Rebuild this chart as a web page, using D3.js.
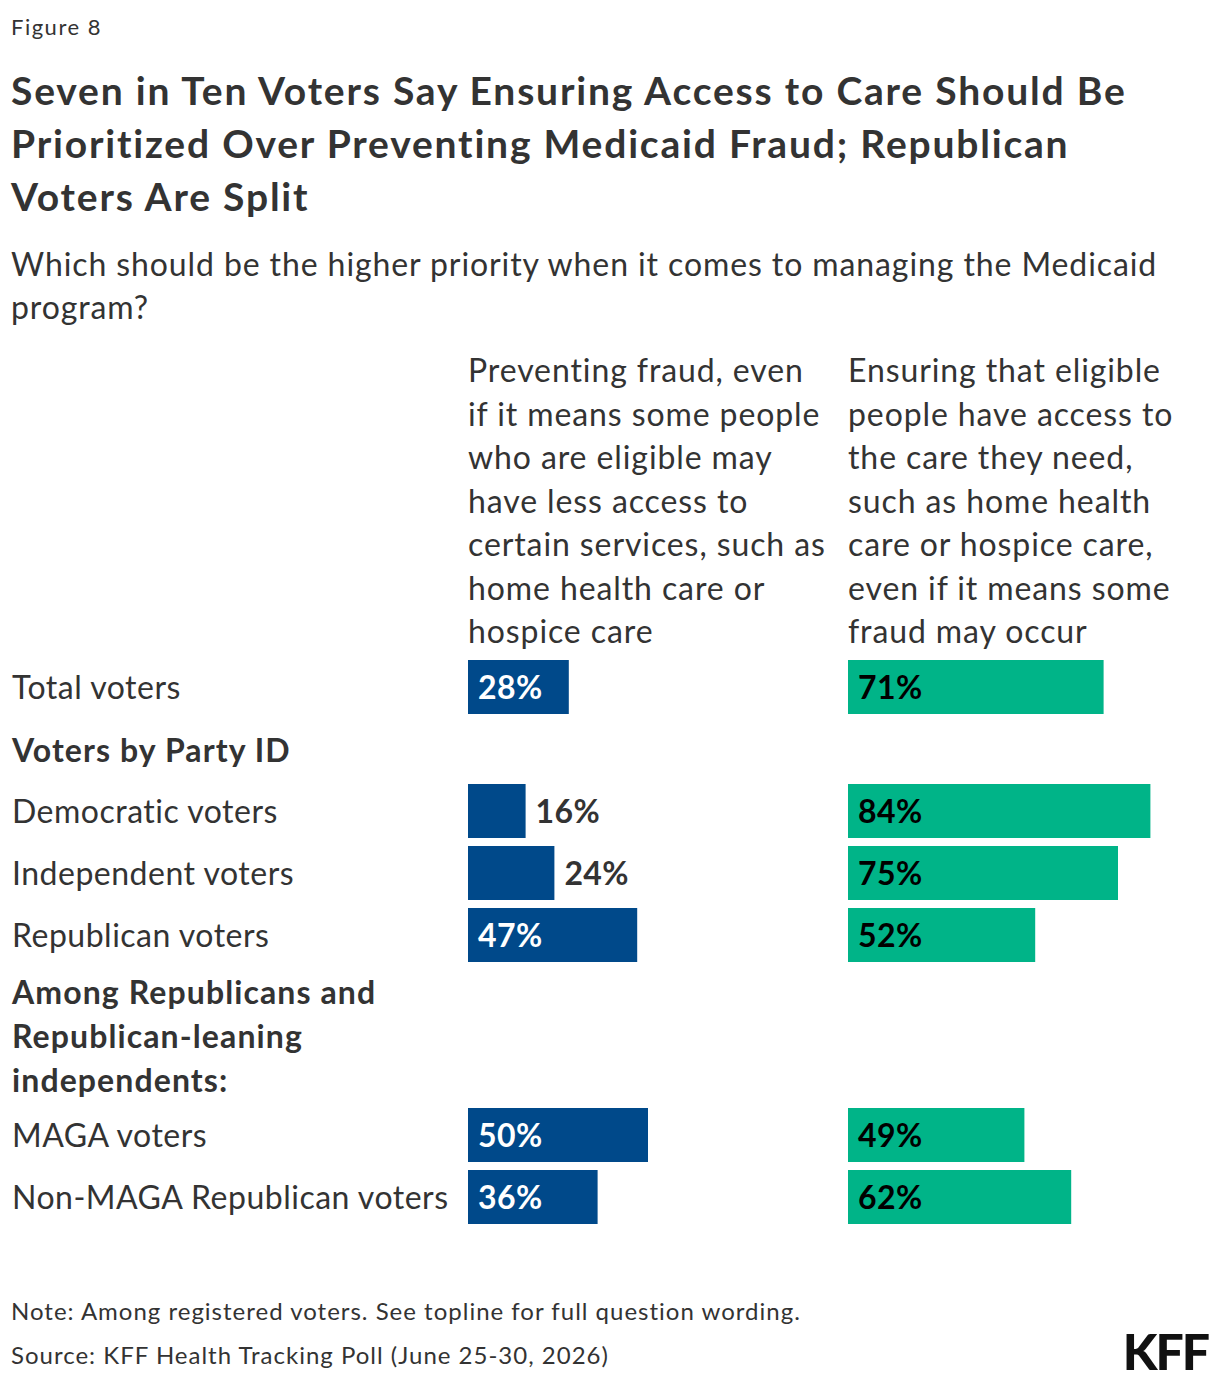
<!DOCTYPE html>
<html>
<head>
<meta charset="utf-8">
<script src="https://cdn.jsdelivr.net/npm/d3@7"></script>
<style>
  body { margin: 0; background: #fff; }
  svg text { font-family: "Source Sans Pro", Lato, "Noto Sans", sans-serif; }
</style>
</head>
<body>
<div id="chart"></div>
<script>
const width = 1220;
const height = 1384;

// Data
const categories = ['Total voters', 'Democratic voters', 'Independent voters', 'Republican voters', 'MAGA voters', 'Non-MAGA Republican voters'];
const fraud_values = [28, 16, 24, 47, 50, 36];
const access_values = [71, 84, 75, 52, 49, 62];
const series_labels = [
  ['Preventing fraud, even', 'if it means some people', 'who are eligible may', 'have less access to', 'certain services, such as', 'home health care or', 'hospice care'],
  ['Ensuring that eligible', 'people have access to', 'the care they need,', 'such as home health', 'care or hospice care,', 'even if it means some', 'fraud may occur']
];
const group_headers = [
  {before: 'Democratic voters', lines: ['Voters by Party ID']},
  {before: 'MAGA voters', lines: ['Among Republicans and', 'Republican-leaning', 'independents:']}
];

const blue = '#00498a';
const green = '#00b488';
const textColor = '#333333';

const svg = d3.select('#chart')
  .append('svg')
    .attr('width', width)
    .attr('height', height);

// Header texts
svg.append('text')
  .attr('x', 11).attr('y', 35)
  .attr('font-size', 22).attr('letter-spacing', 1.5).attr('fill', textColor)
  .text('Figure 8');

const title = ['Seven in Ten Voters Say Ensuring Access to Care Should Be', 'Prioritized Over Preventing Medicaid Fraud; Republican', 'Voters Are Split'];
svg.append('g').selectAll('text')
  .data(title)
  .join('text')
    .attr('x', 11)
    .attr('y', (d, i) => 105 + i * 53)
    .attr('font-size', 39).attr('font-weight', 700)
    .attr('letter-spacing', 1.8).attr('fill', textColor)
    .text(d => d);

const subtitle = ['Which should be the higher priority when it comes to managing the Medicaid', 'program?'];
svg.append('g').selectAll('text')
  .data(subtitle)
  .join('text')
    .attr('x', 11)
    .attr('y', (d, i) => 276 + i * 43)
    .attr('font-size', 32).attr('letter-spacing', 0.9).attr('fill', textColor)
    .text(d => d);

// Column positions and scales
const colX = [468, 848];
const x = d3.scaleLinear().domain([0, 100]).range([0, 360]);

// Column headers
series_labels.forEach((lines, c) => {
  svg.append('g').selectAll('text')
    .data(lines)
    .join('text')
      .attr('x', colX[c])
      .attr('y', (d, i) => 382 + i * 43.5)
      .attr('font-size', 32).attr('letter-spacing', 0.9).attr('fill', textColor)
      .text(d => d);
});

// Row layout
const barH = 54;
const rowStep = 62;
let y = 660;
const rowY = {};
const headerY = [];
categories.forEach(cat => {
  const gh = group_headers.find(g => g.before === cat);
  if (gh) {
    const multi = gh.lines.length > 1;
    headerY.push({lines: gh.lines, y: y + (multi ? 34 : 40)});
    y += gh.lines.length * 44 + (multi ? 6 : 18);
  }
  rowY[cat] = y;
  y += rowStep;
});

headerY.forEach(h => {
  svg.append('g').selectAll('text')
    .data(h.lines)
    .join('text')
      .attr('x', 12)
      .attr('y', (d, i) => h.y + i * 44)
      .attr('font-size', 32).attr('font-weight', 700)
      .attr('letter-spacing', 1.1).attr('fill', textColor)
      .text(d => d);
});

// Row labels
svg.append('g').selectAll('text')
  .data(categories)
  .join('text')
    .attr('x', 12)
    .attr('y', d => rowY[d] + barH / 2 + 12)
    .attr('font-size', 32).attr('letter-spacing', 0.5).attr('fill', textColor)
    .text(d => d);

// Bars
const series = [
  {values: fraud_values, color: blue, inText: '#ffffff'},
  {values: access_values, color: green, inText: '#000000'}
];
series.forEach((s, c) => {
  const g = svg.append('g').attr('transform', 'translate(' + colX[c] + ',0)');
  const rows = categories.map((cat, i) => ({cat, v: s.values[i]}));
  const outside = d => x(d.v) < 95;
  g.selectAll('rect')
    .data(rows)
    .join('rect')
      .attr('x', 0)
      .attr('y', d => rowY[d.cat])
      .attr('width', d => x(d.v))
      .attr('height', barH)
      .attr('fill', s.color);
  g.selectAll('text')
    .data(rows)
    .join('text')
      .attr('x', d => outside(d) ? x(d.v) + 10 : 10)
      .attr('y', d => rowY[d.cat] + barH / 2 + 12)
      .attr('font-size', 32).attr('font-weight', 700).attr('letter-spacing', 0.4)
      .attr('fill', d => outside(d) ? textColor : s.inText)
      .text(d => d.v + '%');
});

// Footer
svg.append('text')
  .attr('x', 11).attr('y', 1320)
  .attr('font-size', 24).attr('letter-spacing', 1).attr('fill', textColor)
  .text('Note: Among registered voters. See topline for full question wording.');
svg.append('text')
  .attr('x', 11).attr('y', 1364)
  .attr('font-size', 24).attr('letter-spacing', 1).attr('fill', textColor)
  .text('Source: KFF Health Tracking Poll (June 25-30, 2026)');
svg.append('text')
  .attr('x', 1208).attr('y', 1370)
  .attr('text-anchor', 'end')
  .attr('font-size', 50).attr('font-weight', 900)
  .attr('letter-spacing', -2)
  .attr('fill', '#111')
  .text('KFF');
</script>
</body>
</html>
